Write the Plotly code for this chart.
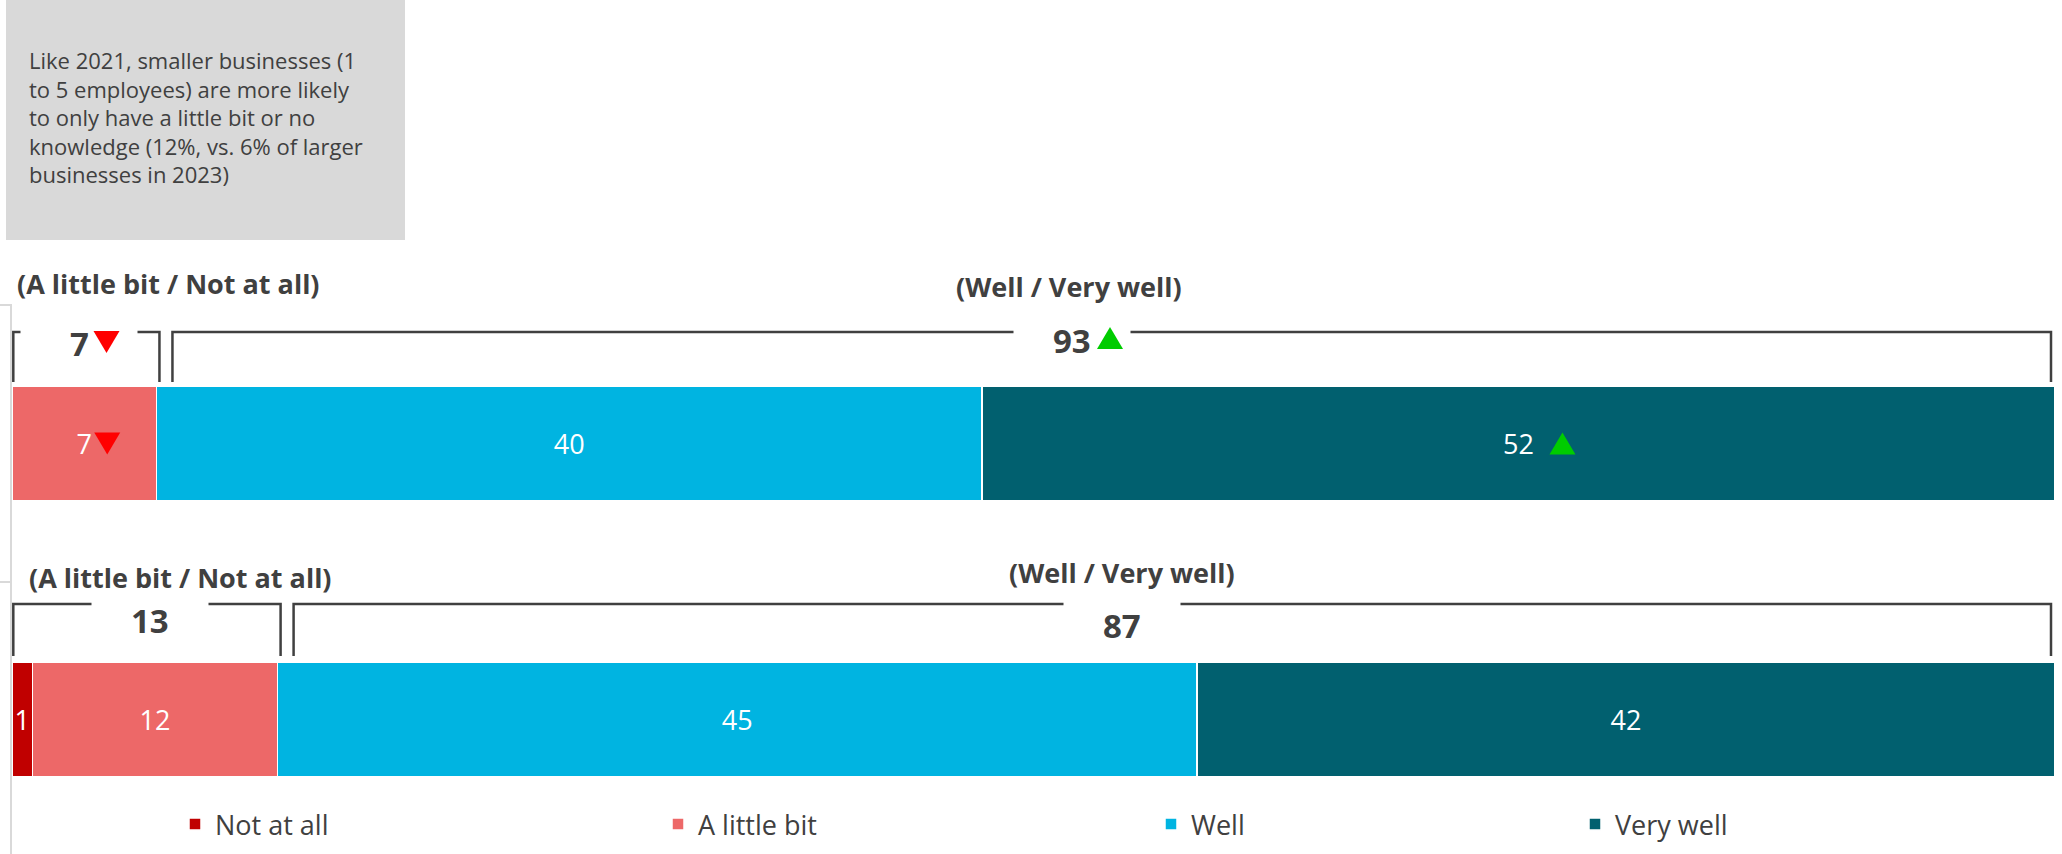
import plotly.graph_objects as go

# ---------------- data ----------------
years = ["2023", "2021"]
series_names = ["Not at all", "A little bit", "Well", "Very well"]
not_at_all = [None, 1]
a_little_bit = [7, 12]
well = [40, 45]
very_well = [52, 42]
series_values = [not_at_all, a_little_bit, well, very_well]
low_totals = [7, 13]      # A little bit / Not at all
high_totals = [93, 87]    # Well / Very well
# significance markers: (series index, year index, direction)
bar_changes = [(1, 0, "down"), (3, 0, "up")]
total_changes = [("low", 0, "down"), ("high", 0, "up")]
note_text = ("Like 2021, smaller businesses (1<br>to 5 employees) are more likely<br>"
             "to only have a little bit or no<br>knowledge (12%, vs. 6% of larger<br>"
             "businesses in 2023)")

# ---------------- style ----------------
colors = ["#c00000", "#ed6868", "#00b4e1", "#01606f"]
W, H = 2062, 854
ML, MR, MT, MB = 12, 7, 304, 0
PW, PH = W - ML - MR, H - MT - MB
FONT = "Open Sans"
DARK = "#404040"
UP_C, DOWN_C = "#00cc00", "#ff0000"
Y_RANGE = [1.4873, -0.5054]


def pxx(px):   # pixel x -> paper x
    return (px - ML) / PW


def pxy(py):   # pixel y -> paper y
    return (H - MB - py) / PH


def pct_unit(px):  # pixel length -> x data units (0..100 axis)
    return px / PW * 100


fig = go.Figure()
legend_ids = ["legend", "legend2", "legend3", "legend4"]
for i, (name, vals) in enumerate(zip(series_names, series_values)):
    fig.add_trace(go.Bar(
        y=years, x=vals, name=name, orientation="h",
        marker=dict(color=colors[i], line=dict(color="white", width=1.5)),
        text=[("" if v is None else str(v)) for v in vals],
        textposition="inside", insidetextanchor="middle",
        textangle=0, constraintext="none",
        insidetextfont=dict(family=FONT, size=27, color="white"),
        legend=legend_ids[i], hoverinfo="skip",
    ))


def row_pct(r):
    vals = [(v[r] or 0) for v in series_values]
    tot = sum(vals)
    starts, acc = [], 0
    for v in vals:
        starts.append(acc / tot * 100)
        acc += v
    return vals, tot, starts


shapes = []
annotations = []

# note box
shapes.append(dict(type="rect", xref="paper", yref="paper",
                   x0=pxx(6), x1=pxx(405), y0=pxy(0), y1=pxy(240),
                   fillcolor="#d9d9d9", line=dict(width=0), layer="above"))
annotations.append(dict(xref="paper", yref="paper", x=pxx(27), y=pxy(117),
                        xanchor="left", yanchor="middle", align="left",
                        text=note_text, showarrow=False,
                        font=dict(family=FONT, size=22, color=DARK)))

rows = [
    dict(line_y=332, bot_y=382, low_lab=(15, 283, "left"), high_lab=(1069, 287),
         low_num=(79, 343), high_num=(1072, 340)),
    dict(line_y=604, bot_y=656, low_lab=(180, 577, "center"), high_lab=(1122, 572),
         low_num=(150, 620), high_num=(1122, 625)),
]
GAP = 117
for r, row in enumerate(rows):
    vals, tot, starts = row_pct(r)
    low_end = (vals[0] + vals[1]) / tot * 100
    yt, yb = pxy(row["line_y"]), pxy(row["bot_y"])
    spans = [
        (0 + pct_unit(1.3), low_end + pct_unit(3), row["low_num"]),
        (low_end + pct_unit(16), 100 - pct_unit(4), row["high_num"]),
    ]
    for (x0, x1, num) in spans:
        g0 = pct_unit(num[0] - GAP / 2 - ML)
        g1 = pct_unit(num[0] + GAP / 2 - ML)
        path = (f"M {x0},{yb} L {x0},{yt} L {g0},{yt} "
                f"M {g1},{yt} L {x1},{yt} L {x1},{yb}")
        shapes.append(dict(type="path", xref="x", yref="paper", path=path,
                           line=dict(color=DARK, width=2.5), layer="above"))
    lx, ly, la = row["low_lab"]
    annotations.append(dict(xref="paper", yref="paper", x=pxx(lx), y=pxy(ly),
                            xanchor=la, yanchor="middle", showarrow=False,
                            text="<b>(A little bit / Not at all)</b>",
                            font=dict(family=FONT, size=27, color=DARK)))
    hx, hy = row["high_lab"]
    annotations.append(dict(xref="paper", yref="paper", x=pxx(hx), y=pxy(hy),
                            xanchor="center", yanchor="middle", showarrow=False,
                            text="<b>(Well / Very well)</b>",
                            font=dict(family=FONT, size=27, color=DARK)))
    for tot_val, num in ((low_totals[r], row["low_num"]), (high_totals[r], row["high_num"])):
        annotations.append(dict(xref="paper", yref="paper", x=pxx(num[0]), y=pxy(num[1]),
                                xanchor="center", yanchor="middle", showarrow=False,
                                text=f"<b>{tot_val}</b>",
                                font=dict(family=FONT, size=33, color=DARK)))


def tri_path(direction, dx, dy, w=26, h=22):
    # pixel-mode path: y positive goes up
    if direction == "up":
        return (f"M {dx - w/2},{dy - h/2} L {dx + w/2},{dy - h/2} "
                f"L {dx},{dy + h/2} Z")
    return (f"M {dx - w/2},{dy + h/2} L {dx + w/2},{dy + h/2} "
            f"L {dx},{dy - h/2} Z")


# triangles in bars (anchored at the segment centre, from the data)
for (si, yi, d) in bar_changes:
    vals, tot, starts = row_pct(yi)
    center = starts[si] + vals[si] / tot * 100 / 2
    y_paper = (Y_RANGE[0] - yi) / (Y_RANGE[0] - Y_RANGE[1])
    dx = 23 if len(str(vals[si])) == 1 else 44
    shapes.append(dict(type="path", xref="x", yref="paper",
                       xsizemode="pixel", ysizemode="pixel",
                       xanchor=center, yanchor=y_paper,
                       path=tri_path(d, dx, 0),
                       fillcolor=UP_C if d == "up" else DOWN_C,
                       line=dict(width=0), layer="above"))

# triangles next to totals
for (grp, yi, d) in total_changes:
    row = rows[yi]
    num = row["low_num"] if grp == "low" else row["high_num"]
    dx = 27.5 if grp == "low" else 38
    shapes.append(dict(type="path", xref="paper", yref="paper",
                       xsizemode="pixel", ysizemode="pixel",
                       xanchor=pxx(num[0]), yanchor=pxy(num[1]),
                       path=tri_path(d, dx, 2 if d == "up" else 1),
                       fillcolor=UP_C if d == "up" else DOWN_C,
                       line=dict(width=0), layer="above"))

legend_marker_centers = [195, 678, 1171, 1595]
leg_layout = {}
for lid, cx in zip(legend_ids, legend_marker_centers):
    leg_layout[lid] = dict(orientation="h", x=pxx(cx - 20), y=pxy(824.5),
                           xanchor="left", yanchor="middle",
                           bgcolor="rgba(0,0,0,0)", borderwidth=0,
                           font=dict(family=FONT, size=27, color=DARK))

fig.update_layout(
    width=W, height=H,
    margin=dict(l=ML, r=MR, t=MT, b=MB, pad=0),
    paper_bgcolor="white", plot_bgcolor="white",
    barmode="stack", barnorm="percent", bargap=1 - 115 / 276,
    showlegend=True,
    xaxis=dict(range=[0, 100], visible=False, fixedrange=True),
    yaxis=dict(type="category", categoryorder="array", categoryarray=years,
               range=Y_RANGE, showticklabels=False,
               showline=True, linecolor="#d9d9d9", linewidth=1.5,
               ticks="outside", tickson="boundaries", ticklen=12,
               tickcolor="#d9d9d9", tickwidth=1.5, showgrid=False,
               zeroline=False, fixedrange=True),
    shapes=shapes, annotations=annotations,
    font=dict(family=FONT, color=DARK),
    **leg_layout,
)

fig.write_html("out.html", config={"displayModeBar": False},
               post_script="document.body.style.margin='0px';")
